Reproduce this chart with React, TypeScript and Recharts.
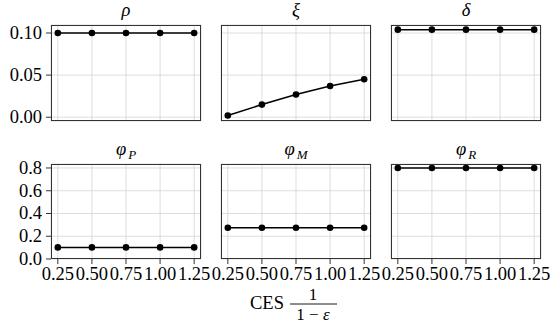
import React from 'react';
import { LineChart, Line, XAxis, YAxis, CartesianGrid } from 'recharts';

// CES values on the shared x axis
const cesValues = [0.25, 0.5, 0.75, 1.0, 1.25];
const xTicks = [0.25, 0.5, 0.75, 1.0, 1.25];

// series
const rho = [0.1, 0.1, 0.1, 0.1, 0.1];
const xi = [0.002, 0.015, 0.027, 0.037, 0.045];
const delta = [0.104, 0.104, 0.104, 0.104, 0.104];
const phiP = [0.102, 0.102, 0.102, 0.102, 0.102];
const phiM = [0.275, 0.275, 0.275, 0.275, 0.275];
const phiR = [0.8, 0.8, 0.8, 0.8, 0.8];

const topTicks = [0, 0.05, 0.1];
const bottomTicks = [0, 0.2, 0.4, 0.6, 0.8];

const FONT = '"Liberation Serif", "DejaVu Serif", serif';
const FS = 18.5;
const PLOT_W = 150;
const PAD = 22; // room so tick labels are not clipped by the chart's svg
const COLS = [51, 221, 391];
const ROWS = [
  { top: 25, h: 96, domain: [-0.0045, 0.1095], ticks: topTicks, digits: 2 },
  { top: 164, h: 95, domain: [0, 0.835], ticks: bottomTicks, digits: 1 },
];

// serif tick labels, drawn as plain svg text
const XTick = (props: any) => {
  const { x, y, payload } = props;
  return (
    <text x={x} y={y + 13} textAnchor="middle" fontFamily={FONT} fontSize={FS} fill="#000">
      {Number(payload.value).toFixed(2)}
    </text>
  );
};

const makeYTick = (digits: number) => (props: any) => {
  const { x, y, payload } = props;
  return (
    <text x={x + 1} y={y + 6} textAnchor="end" fontFamily={FONT} fontSize={FS} fill="#000">
      {Number(payload.value).toFixed(digits)}
    </text>
  );
};

interface PanelProps {
  title: React.ReactNode;
  values: number[];
  col: number;
  row: number;
}

const Panel: React.FC<PanelProps> = ({ title, values, col, row }) => {
  const r = ROWS[row];
  const showY = col === 0;
  const showX = row === 1;
  const yw = showY ? 51 : 0;
  const xh = showX ? 30 : 0;
  const plotLeft = COLS[col];
  const data = cesValues.map((x, i) => ({ x, v: values[i] }));

  return (
    <>
      <div
        style={{
          position: 'absolute',
          left: plotLeft,
          top: r.top - 25,
          width: PLOT_W,
          textAlign: 'center',
          fontStyle: 'italic',
          fontSize: FS,
          lineHeight: '21px',
        }}
      >
        {title}
      </div>
      <div style={{ position: 'absolute', left: plotLeft - yw - PAD, top: r.top - PAD }}>
        <LineChart
          width={PAD + yw + PLOT_W + PAD}
          height={PAD + r.h + xh + PAD}
          data={data}
          margin={{ top: PAD, right: PAD, bottom: PAD, left: PAD }}
        >
          <CartesianGrid stroke="#d4d4d4" strokeWidth={0.8} />
          <XAxis
            dataKey="x"
            type="number"
            domain={[0.2, 1.3]}
            ticks={xTicks}
            hide={!showX}
            height={xh}
            axisLine={false}
            tickSize={5}
            tickMargin={3}
            tickLine={{ stroke: '#333' }}
            tick={<XTick />}
            interval={0}
          />
          <YAxis
            type="number"
            domain={r.domain}
            ticks={r.ticks}
            hide={!showY}
            width={yw}
            axisLine={false}
            tickSize={5}
            tickMargin={5}
            tickLine={{ stroke: '#333' }}
            tick={makeYTick(r.digits)}
            interval={0}
            allowDataOverflow
          />
          <Line
            dataKey="v"
            stroke="#000"
            strokeWidth={1.5}
            dot={{ r: 3.3, fill: '#000', stroke: '#000', strokeWidth: 0 }}
            isAnimationActive={false}
          />
        </LineChart>
      </div>
      <div
        style={{
          position: 'absolute',
          left: plotLeft,
          top: r.top,
          width: PLOT_W,
          height: r.h,
          border: '1.2px solid #333',
          boxSizing: 'border-box',
          pointerEvents: 'none',
        }}
      />
    </>
  );
};

const Sub: React.FC<{ s: string }> = ({ s }) => (
  <span style={{ fontSize: 13, position: 'relative', top: 4, marginLeft: 2 }}>{s}</span>
);

export default function App() {
  return (
    <div
      style={{
        position: 'absolute',
        left: 0,
        top: 0,
        width: 550,
        height: 324,
        background: '#fff',
        overflow: 'hidden',
        fontFamily: FONT,
      }}
    >
      <Panel title="ρ" values={rho} col={0} row={0} />
      <Panel title="ξ" values={xi} col={1} row={0} />
      <Panel title="δ" values={delta} col={2} row={0} />
      <Panel title={<>φ<Sub s="P" /></>} values={phiP} col={0} row={1} />
      <Panel title={<>φ<Sub s="M" /></>} values={phiM} col={1} row={1} />
      <Panel title={<>φ<Sub s="R" /></>} values={phiR} col={2} row={1} />
      <svg width={550} height={324} style={{ position: 'absolute', left: 0, top: 0, pointerEvents: 'none' }}>
        <g fontFamily={FONT} fill="#000">
          <text x={267} y={309} fontSize={FS} textAnchor="middle">CES</text>
          <text x={313} y={300} fontSize={17} textAnchor="middle">1</text>
          <line x1={290} x2={337} y1={304} y2={304} stroke="#000" strokeWidth={0.9} />
          <text x={313} y={320} fontSize={17} textAnchor="middle">
            1 − <tspan fontStyle="italic">ε</tspan>
          </text>
        </g>
      </svg>
    </div>
  );
}
